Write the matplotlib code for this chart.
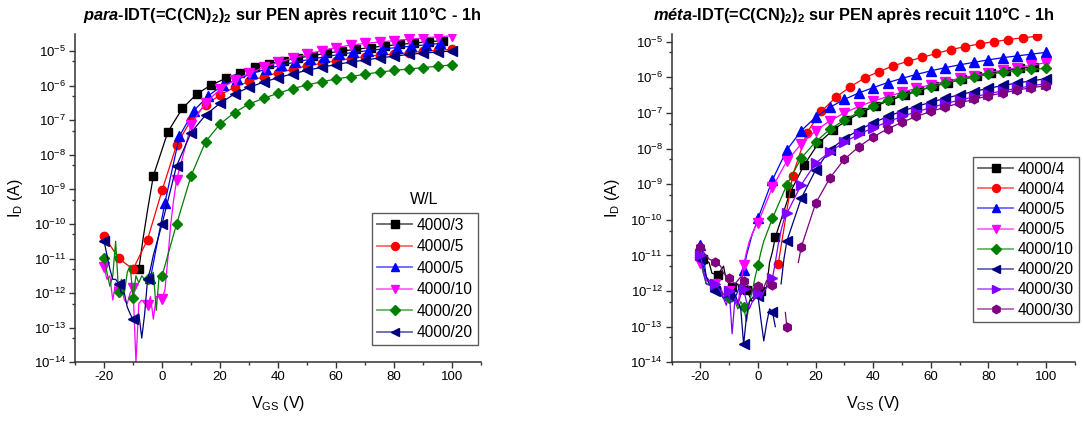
import numpy as np
import matplotlib
matplotlib.use("Agg")
import matplotlib.pyplot as plt
from matplotlib.lines import Line2D
from matplotlib.legend_handler import HandlerTuple
from matplotlib.ticker import FixedLocator, MultipleLocator, FuncFormatter, NullFormatter

plt.rcParams['font.family'] = ['Liberation Sans', 'DejaVu Sans']
plt.rcParams['mathtext.fontset'] = 'custom'
plt.rcParams['mathtext.rm'] = 'Liberation Sans'
plt.rcParams['mathtext.it'] = 'Liberation Sans:italic:bold'
plt.rcParams['mathtext.bf'] = 'Liberation Sans:bold'
plt.rcParams['axes.unicode_minus'] = False

# ---------------- data (log10 of I_D in A, markers every 5 V) ----------------
# para-IDT panel
para_labels = ['4000/3', '4000/5', '4000/5', '4000/10', '4000/20', '4000/20']
para_colors = ['#000000', '#ff0000', '#0000ff', '#ff00ff', '#008000', '#000080']
para_markers = ['s', 'o', '^', 'v', 'D', '<']
para_vstart = [-8, -20, -4, -20, -20, -20]
para_log = [
    [-11.3, -8.61, -7.34, -6.66, -6.24, -5.98, -5.79, -5.63, -5.47, -5.37, -5.28,
     -5.20, -5.13, -5.06, -5.00, -4.95, -4.90, -4.85, -4.81, -4.77, -4.73, -4.70],
    [-10.35, -10.99, -11.31, -10.45, -9.03, -7.72, -6.99, -6.56, -6.27, -6.05, -5.88,
     -5.74, -5.63, -5.53, -5.43, -5.36, -5.28, -5.22, -5.16, -5.12, -5.09, -5.05,
     -5.01, -4.98, -4.95],
    [-11.57, -9.38, -7.46, -6.72, -6.29, -5.99, -5.82, -5.65, -5.52, -5.41, -5.32,
     -5.24, -5.17, -5.10, -5.04, -4.99, -4.94, -4.90, -4.86, -4.82, -4.78],
    [-11.25, -11.96, -11.84, -12.35, -12.18, -8.73, -7.14, -6.49, -6.11, -5.84, -5.65,
     -5.47, -5.33, -5.21, -5.10, -4.99, -4.90, -4.83, -4.78, -4.74, -4.70, -4.66,
     -4.62, -4.59, -4.56],
    [-10.99, -11.96, -12.13, -11.6, -11.5, -10.01, -8.61, -7.62, -7.11, -6.78, -6.53,
     -6.37, -6.22, -6.09, -5.98, -5.89, -5.81, -5.74, -5.67, -5.61, -5.56, -5.52,
     -5.48, -5.44, -5.40],
    [-10.49, -11.73, -12.76, -11.6, -10.0, -8.32, -7.36, -6.85, -6.51, -6.24, -6.05,
     -5.90, -5.77, -5.66, -5.56, -5.47, -5.39, -5.32, -5.26, -5.20, -5.15, -5.10,
     -5.06, -5.03, -5.00],
]
# extra (V, log I) points of the measured sweep between the markers
para_extra = [
    [(-6.5, -10.4), (-5, -9.6)],
    [],
    [],
    [(-19, -11.6), (-18, -11.5), (-17, -12.2), (-16, -11.7), (-14, -11.8), (-13, -12.2),
     (-12, -12.3), (-11, -12.0), (-9, -14.0), (-8, -12.3), (-7, -12.2), (-6, -12.3),
     (-4, -12.1), (-3, -12.75), (-2, -12.1), (-1, -12.1), (1, -11.9), (2, -11.0),
     (3, -10.0), (4, -9.3)],
    [(-19, -11.4), (-18, -11.8), (-17, -11.5), (-16, -10.5), (-14, -11.6), (-13, -12.0),
     (-12, -11.4), (-11, -11.2), (-9, -11.5), (-8, -11.7), (-7, -11.5), (-6, -11.6),
     (-4, -11.5), (-3, -11.4), (-2, -12.5), (-1, -11.5), (1, -11.2), (2, -10.9),
     (3, -10.6), (4, -10.3)],
    [(-19, -10.9), (-18, -11.3), (-17, -11.6), (-16, -11.6), (-14, -12.0), (-13, -12.0),
     (-12, -12.4), (-11, -12.6), (-9, -12.75), (-8, -12.6), (-7, -13.3), (-6, -12.6),
     (-4, -11.3), (-3, -10.9), (-2, -10.6), (-1, -10.3)],
]

# meta-IDT panel
meta_labels = ['4000/4', '4000/4', '4000/5', '4000/5', '4000/10', '4000/20', '4000/30', '4000/30']
meta_colors = ['#000000', '#ff0000', '#0000ff', '#ff00ff', '#008000', '#000080', '#8000ff', '#800080']
meta_markers = ['s', 'o', '^', 'v', 'D', '<', '>', 'h']
meta_vstart = [-19, 7, -20, -20, -20, -20, -20, -20]
meta_log = [
    [-11.1, -11.55, -11.89, -11.97, -12.01, -10.49, -9.26, -8.46, -7.85, -7.48, -7.20,
     -6.98, -6.80, -6.64, -6.50, -6.37, -6.25, -6.15, -6.05, -5.96, -5.88, -5.81,
     -5.75, -5.70],
    [-11.24, -8.76, -7.55, -6.96, -6.56, -6.27, -6.02, -5.84, -5.68, -5.55, -5.44,
     -5.33, -5.22, -5.14, -5.06, -5.00, -4.94, -4.89, -4.85],
    [-10.71, -11.85, -12.1, -11.4, -9.96, -8.88, -8.04, -7.50, -7.12, -6.84, -6.62,
     -6.44, -6.29, -6.15, -6.03, -5.92, -5.82, -5.73, -5.65, -5.58, -5.51, -5.45,
     -5.40, -5.35, -5.30],
    [-11.2, -11.8, -12.0, -11.27, -10.08, -9.09, -8.35, -7.87, -7.50, -7.22, -7.00,
     -6.82, -6.67, -6.54, -6.42, -6.31, -6.21, -6.12, -6.03, -5.95, -5.87, -5.80,
     -5.73, -5.66, -5.59],
    [-11.03, -11.9, -12.2, -12.44, -11.27, -9.96, -9.02, -8.27, -7.81, -7.46, -7.20,
     -6.98, -6.80, -6.64, -6.50, -6.38, -6.27, -6.17, -6.07, -5.99, -5.92, -5.86,
     -5.81, -5.78, -5.75],
    [-11.1, -12.0, -12.1, -13.5, -12.15, -12.58, -10.6, -9.4, -8.6, -8.04, -7.72,
     -7.48, -7.28, -7.10, -6.95, -6.82, -6.70, -6.59, -6.49, -6.40, -6.31, -6.23,
     -6.16, -6.10, -6.04],
    [-11.0, -11.8, -12.0, -11.95, -12.05, -11.64, -9.82, -9.02, -8.41, -8.09, -7.82,
     -7.60, -7.42, -7.25, -7.10, -6.97, -6.85, -6.74, -6.64, -6.55, -6.46, -6.38,
     -6.31, -6.24, -6.18],
    [-10.77, -11.19, -11.64, -11.71, -11.85, -11.83, -13.0, -10.77, -9.54, -8.82, -8.30,
     -7.95, -7.67, -7.45, -7.26, -7.10, -6.96, -6.84, -6.72, -6.62, -6.52, -6.44,
     -6.36, -6.29, -6.24],
]
meta_extra = [
    [(-17, -11.2), (-16, -11.5), (-12, -11.3), (-11, -11.7), (-7, -11.8), (-6, -12.1),
     (-2, -12.3), (3, -11.9), (4, -11.2), (5, -10.9)],
    [],
    [(-19, -11.0), (-18, -11.6), (-17, -11.7), (-16, -11.9), (-14, -11.95), (-13, -12.1),
     (-12, -12.2), (-11, -12.2), (-9, -12.3), (-8, -12.2), (-7, -12.0), (-6, -11.8),
     (-4, -11.0), (-3, -10.7), (-2, -10.4), (-1, -10.2)],
    [(-19, -11.5), (-18, -11.7), (-13, -11.9), (-12, -12.1), (-8, -12.2), (-7, -12.4),
     (-6, -11.8), (-4, -10.9), (-3, -10.6), (-2, -10.4), (-1, -10.2)],
    [(-19, -11.5), (-18, -11.8), (-13, -12.0), (-12, -12.1), (-8, -12.3), (-7, -12.5),
     (-6, -12.3), (-4, -12.85), (-3, -12.3), (-2, -12.0), (-1, -11.6), (1, -10.9),
     (2, -10.6)],
    [(-19, -11.3), (-18, -11.6), (-17, -11.8), (-13, -12.0), (-12, -12.2), (-8, -12.1),
     (-7, -12.3), (-6, -12.5), (-4, -12.7), (-3, -12.3), (-2, -12.2), (-1, -12.1),
     (1, -12.8), (2, -13.4), (3, -12.9), (4, -12.5), (6, -13.0), (7, np.nan),
     (8, -11.8), (9, -11.1)],
    [(-19, -11.4), (-18, -11.8), (-13, -12.0), (-12, -12.2), (-11, -12.4), (-9, -13.2),
     (-8, -12.2), (-7, -12.4), (-6, -12.1), (-4, -12.3), (-3, -12.5), (-2, -12.3),
     (-1, -12.2), (1, -12.2), (2, -12.0), (3, -11.9), (4, -11.8), (6, -11.2),
     (7, -10.7), (8, -10.3), (9, -10.0)],
    [(-19, -10.9), (-18, -11.0), (-17, -11.1), (-13, -11.3), (-12, -11.5), (-8, -11.8),
     (-7, -11.7), (-6, -11.6), (-3, -11.9), (-2, -12.0), (-1, -11.9), (1, -11.95),
     (2, -11.9), (3, -11.7), (4, -11.8), (6, np.nan), (9.5, -12.6), (11, np.nan),
     (14, -11.2)],
]

STEP = 5
MARKER_SIZE = {'s': 5.6, 'o': 6.0, '^': 6.6, 'v': 6.6, 'D': 5.0, '<': 6.6, '>': 6.6, 'h': 6.3}


def marker_v(vstart, logs):
    return np.array([vstart + STEP * k for k in range(len(logs))], dtype=float)


def sweep(v, logs, extra):
    vv = np.concatenate([v, [p[0] for p in extra]])
    ll = np.concatenate([logs, [p[1] for p in extra]])
    order = np.argsort(vv, kind='stable')
    return vv[order], 10.0 ** ll[order]


def draw_panel(ax, labels, colors, markers, vstarts, logs, extras):
    handles = []
    for lab, c, m, vs, lg, ex in zip(labels, colors, markers, vstarts, logs, extras):
        v = marker_v(vs, lg)
        lv, li = sweep(v, np.array(lg), ex)
        ax.plot(lv, li, '-', color=c, lw=0.9)
        ax.plot(v, 10.0 ** np.array(lg), ls='none', marker=m, ms=MARKER_SIZE[m],
                color=c, mec=c)
        hl = Line2D([], [], color=c, lw=1.3, alpha=0.6)
        hm = Line2D([], [], ls='none', marker=m, ms=MARKER_SIZE[m] * 0.95, color=c, mec=c)
        handles.append((hl, hm))

    ax.set_yscale('log')
    ax.set_xlim(-30, 110)
    ax.xaxis.set_major_locator(FixedLocator([-20, 0, 20, 40, 60, 80, 100]))
    ax.xaxis.set_minor_locator(MultipleLocator(10))
    ax.yaxis.set_major_locator(FixedLocator([10.0 ** e for e in range(-14, -4)]))
    ax.yaxis.set_major_formatter(FuncFormatter(lambda y, p: r'$10^{%d}$' % round(np.log10(y))))
    ax.yaxis.set_minor_locator(FixedLocator([5 * 10.0 ** e for e in range(-14, -4)]))
    ax.yaxis.set_minor_formatter(NullFormatter())
    for s in ['top', 'right']:
        ax.spines[s].set_visible(False)
    for s in ['left', 'bottom']:
        ax.spines[s].set_color('#333333')
        ax.spines[s].set_linewidth(1.1)
    ax.tick_params(which='major', direction='out', length=4.5, width=1.0,
                   color='#333333', labelsize=9.5, pad=2)
    ax.tick_params(which='minor', direction='out', length=2.5, width=1.0, color='#333333')
    ax.set_xlabel(r'V$_\mathrm{GS}$ (V)', fontsize=11.5, labelpad=8)
    ax.set_ylabel(r'I$_\mathrm{D}$ (A)', fontsize=11.5, labelpad=6)
    return handles


fig = plt.figure(figsize=(10.83, 4.21), dpi=100)
ax1 = fig.add_axes([0.0693, 0.1394, 0.3749, 0.7798])
ax2 = fig.add_axes([0.6202, 0.1394, 0.3721, 0.7798])

h1 = draw_panel(ax1, para_labels, para_colors, para_markers, para_vstart, para_log, para_extra)
h2 = draw_panel(ax2, meta_labels, meta_colors, meta_markers, meta_vstart, meta_log, meta_extra)
ax1.set_ylim(1e-14, 3.1e-5)
ax2.set_ylim(1e-14, 1.64e-5)

leg_kw = dict(handler_map={tuple: HandlerTuple(ndivide=1)}, fontsize=11.2,
              loc='upper left', frameon=True, fancybox=False, borderaxespad=0,
              handlelength=2.3, handletextpad=0.3, borderpad=0.3)
l1 = fig.legend(h1, para_labels, bbox_to_anchor=(372 / 1083, 1 - 213 / 421),
                labelspacing=0.42, **leg_kw)
l2 = fig.legend(h2, meta_labels, bbox_to_anchor=(973 / 1083, 1 - 157 / 421),
                labelspacing=0.33, **leg_kw)
for lg in (l1, l2):
    lg.get_frame().set_edgecolor('#333333')
    lg.get_frame().set_linewidth(1.0)
fig.text(424 / 1083, 1 - 199 / 421, 'W/L', fontsize=11.5, ha='center', va='center')

title_tail = '-IDT(=C(CN)$_\\mathbf{2}$)$_\\mathbf{2}$ sur PEN après recuit 110°C - 1h'
fig.text(282 / 1083, 1 - 15 / 421, r'$\mathit{para}$' + title_tail,
         fontsize=11.8, fontweight='bold', ha='center', va='center')
fig.text(854 / 1083, 1 - 15 / 421, r'$\mathit{méta}$' + title_tail,
         fontsize=11.8, fontweight='bold', ha='center', va='center')

fig.savefig('out.png', dpi=100)
